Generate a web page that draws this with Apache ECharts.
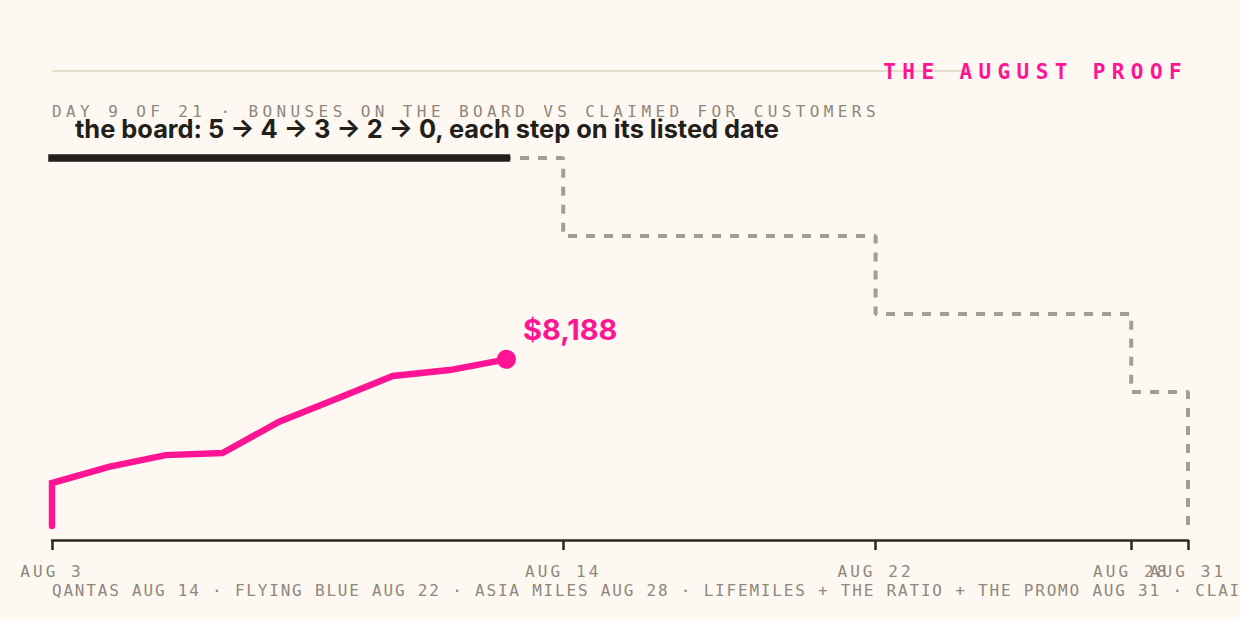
<!DOCTYPE html>
<html><head><meta charset="utf-8">
<style>
html,body{margin:0;padding:0;background:#fdf8f2;}
#c{width:1240px;height:620px;}
#c text[style*="lsp64"]{letter-spacing:6.4px;}
#c text[style*="lsp44"]{letter-spacing:4.4px;}
#c text[style*="lsp31"]{letter-spacing:3.1px;}
#c text[style*="lsp18"]{letter-spacing:1.8px;}
</style>
<script src="https://cdn.jsdelivr.net/npm/echarts@6/dist/echarts.min.js"></script>
</head><body><div id="c"></div>
<script>
// ---- data ----
// x positions are business-day indexes of August (Aug 3 = 0 ... Aug 31 = 20); Aug 22 (a Saturday) sits between Aug 21 and Aug 24
const tickDays = [0, 9, 14.5, 19, 20];
const tickLabels = ['AUG 3', 'AUG 14', 'AUG 22', 'AUG 28', 'AUG 31'];
const boardDays = [0, 9, 14.5, 19, 20];
const boardCounts = [5, 4, 3, 2, 0];
const claimedDays = [0, 0, 1, 2, 3, 4, 5, 6, 7, 8];
const claimedValues = [0, 2110, 2900, 3480, 3580, 5120, 6240, 7370, 7660, 8188];
const titleText = 'THE AUGUST PROOF';
const subtitleText = 'DAY 9 OF 21 · BONUSES ON THE BOARD VS CLAIMED FOR CUSTOMERS';
const headlineText = 'the board: 5 → 4 → 3 → 2 → 0, each step on its listed date';
const footerText = 'QANTAS AUG 14 · FLYING BLUE AUG 22 · ASIA MILES AUG 28 · LIFEMILES + THE RATIO + THE PROMO AUG 31 · CLAIMED';

const PINK = '#ff1493';
const INK = '#221f1b';
const GREY = '#8f877c';
const MONO = "'DejaVu Sans Mono'";
const AXIS = '#2b2620';

const today = claimedDays[claimedDays.length - 1];
let boardToday = boardCounts[0];
boardDays.forEach((d, i) => { if (d <= today) boardToday = boardCounts[i]; });
const lastIdx = claimedValues.length - 1;
const labelFmt = v => tickLabels[tickDays.indexOf(v)];
const labelStyle = { color: GREY, fontFamily: MONO + ', lsp31', fontSize: 16, margin: 23, hideOverlap: false,
  showMinLabel: true, showMaxLabel: true, formatter: labelFmt };

const chart = echarts.init(document.getElementById('c'), null, { renderer: 'svg' });
chart.setOption({
  backgroundColor: '#fdf8f2',
  animation: false,
  grid: { left: 52, right: 52, top: 119, bottom: 90 },
  xAxis: [
    {
      type: 'value', min: 0, max: 20, offset: 10, position: 'bottom',
      splitLine: { show: false },
      axisLine: { show: true, onZero: false, lineStyle: { color: AXIS, width: 2.5 } },
      axisTick: { show: true, customValues: tickDays, length: 10, lineStyle: { color: AXIS, width: 2.5 } },
      axisLabel: Object.assign({ customValues: tickDays.slice(0, -1) }, labelStyle)
    },
    {
      type: 'value', min: 0, max: 20, offset: 10, position: 'bottom',
      splitLine: { show: false },
      axisLine: { show: false, onZero: false },
      axisTick: { show: false },
      axisLabel: Object.assign({ customValues: tickDays.slice(-1) }, labelStyle)
    }
  ],
  yAxis: [
    { type: 'value', min: 0.23, max: 5.5, show: false },
    { type: 'value', min: -200, max: 20000, show: false }
  ],
  graphic: [
    { type: 'line', silent: true, shape: { x1: 52, y1: 71, x2: 972, y2: 71 }, style: { stroke: '#e6ddcc', lineWidth: 2 } },
    { type: 'text', silent: true, style: { text: titleText, x: 1188, y: 71.5, align: 'right', verticalAlign: 'middle',
      fontWeight: 'bold', fontSize: 21, fontFamily: MONO + ', lsp64', fill: PINK } },
    { type: 'text', silent: true, style: { text: subtitleText, x: 52, y: 111, align: 'left', verticalAlign: 'middle',
      fontSize: 16, fontFamily: MONO + ', lsp44', fill: GREY } },
    { type: 'text', silent: true, style: { text: headlineText, x: 75, y: 128, align: 'left', verticalAlign: 'middle',
      fontWeight: 'bold', fontSize: 25.4, fontFamily: 'Inter', fill: INK } },
    { type: 'text', silent: true, style: { text: footerText, x: 52, y: 590, align: 'left', verticalAlign: 'middle',
      fontSize: 16, fontFamily: MONO + ', lsp18', fill: GREY } }
  ],
  series: [
    {
      type: 'line', yAxisIndex: 0, xAxisIndex: 0, step: 'end', symbol: 'none', silent: true,
      data: boardDays.map((d, i) => [d, boardCounts[i]]),
      lineStyle: { color: '#a29d95', width: 4, type: [9, 9], cap: 'butt' }
    },
    {
      type: 'line', yAxisIndex: 0, xAxisIndex: 0, symbol: 'none', silent: true, clip: false,
      data: [[boardDays[0], boardToday], [today, boardToday]],
      lineStyle: { color: INK, width: 7.5, cap: 'square' }
    },
    {
      type: 'line', yAxisIndex: 1, xAxisIndex: 0, symbol: 'none', silent: true,
      data: claimedDays.map((d, i) => [d, claimedValues[i]]),
      lineStyle: { color: PINK, width: 6.5, cap: 'round', join: 'miter' }
    },
    {
      type: 'scatter', yAxisIndex: 1, xAxisIndex: 0, symbol: 'circle', symbolSize: 19, silent: true,
      itemStyle: { color: PINK, opacity: 1 },
      data: [[claimedDays[lastIdx], claimedValues[lastIdx]]],
      label: {
        show: true, position: 'right', distance: 7, offset: [0, -30],
        formatter: p => '$' + p.value[1].toLocaleString('en-US'),
        color: PINK, fontFamily: 'Inter', fontWeight: 700, fontSize: 29
      }
    }
  ]
});
</script>
</body></html>
